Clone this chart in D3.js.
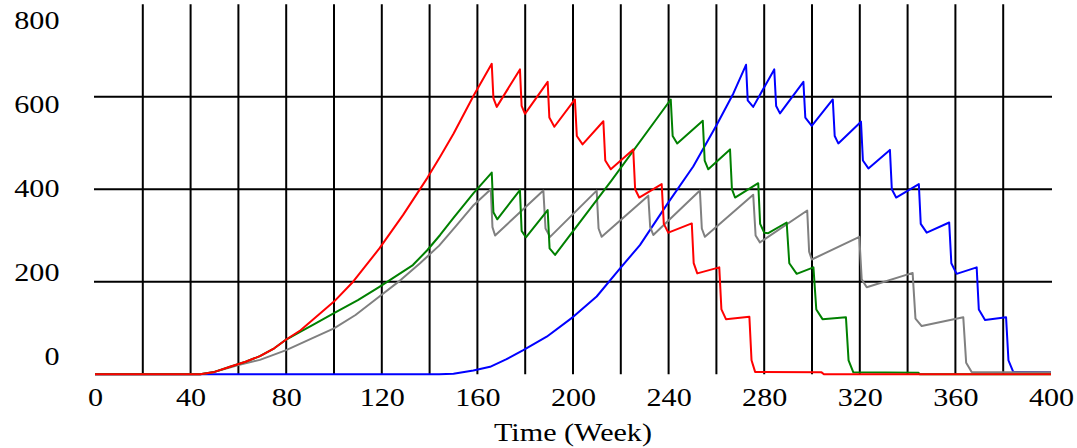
<!DOCTYPE html>
<html>
<head>
<meta charset="utf-8">
<script src="https://cdn.jsdelivr.net/npm/d3@7"></script>
<style>
  html, body { margin: 0; padding: 0; background: #fff; }
  svg { display: block; }
  text { font-family: "Liberation Serif", "Times New Roman", serif; fill: #000; }
</style>
</head>
<body>
<svg id="chart" width="1077" height="448"></svg>
<script>
// ---- data (Time in weeks, value) ----
const xTicks = [0, 40, 80, 120, 160, 200, 240, 280, 320, 360, 400];
const xGrid = [20, 40, 60, 80, 100, 120, 140, 160, 180, 200, 220, 240, 260, 280, 300, 320, 340, 360, 380];
const yTicks = [0, 200, 400, 600, 800];
const yGrid = [200, 400, 600];
const xTitle = "Time (Week)";

const blueSeries = [[0,0],[144,0],[150,1],[158.3,8],[165.3,16],[172,32],[179.2,52],[189,81],[200.1,124],[209.9,168],[219.7,229],[228,279],[239.2,366],[250.3,449],[260.1,539],[267.1,607],[272.4,669],
  [273.1,592],[275.4,578],[284.2,659],[285,580],[286.6,564],[296.4,632],[297.2,555],[299.9,537],[308.7,594],[309.5,515],[311,499],[320.5,546],[321.3,462],[323.6,445],[332.6,485],[333.4,400],[335.2,382],[344.7,411],[345.5,325],[348,306],[357.4,328],[358.3,240],[360.5,217],[368.9,231],[369.8,140],[372.4,117],[381.2,123],[382.2,30],[384.2,5],[400,4]];

const graySeries = [[0,0],[44,0],[50,5],[56,14],[60,20],[69,31],[80,52],[91,78],[100,99],[109,128],[119,168],[128,204],[136,240],[144,278],[151,320],[158.5,366],[165.6,400],
  [166.3,318],[167.4,300],[187.6,397],[188.5,315],[190.4,297],[209.9,397],[210.7,315],[212,297],[231.5,386],[232.3,318],[233.6,301],[253.1,397],[253.9,315],[255.2,297],[275.4,388],[276.4,300],[278.2,285],[298,354],[298.8,265],[299.9,248],[319.8,297],[320.8,205],[322.9,188],[342.1,219],[343.3,120],[345.9,104],[363.3,123],[364.5,25],[366.8,5],[400,4]];

const greenSeries = [[0,0],[44,0],[50,5],[56.5,16],[63,27],[69,39],[75,56],[80,75],[86,92],[91,106],[100,132],[110,160],[119,189],[133,236],[139,268],[144.4,301],[150,338],[158.3,391],[166,436],
  [166.7,350],[168.3,335],[177.8,398],[178.5,310],[180.3,296],[189.4,355],[190.2,272],[192.5,258],[216,418],[240.9,594],[241.7,515],[243.6,499],[254.3,548],[255.1,462],[256.6,443],[265.7,486],[266.5,400],[267.8,382],[277.5,413],[278.3,325],[280,306],[281.7,305],[289.4,328],[290.5,240],[293.6,217],[300.6,231],[301.8,140],[304.4,119],[314.2,123],[315.3,30],[317.3,4],[344.6,3],[345,0],[400,0]];

const redSeries = [[0,0],[44,0],[50,5],[56.5,16],[63,27],[69,39],[75,56],[80,75],[86,95],[91,117],[100,157],[108,200],[119,272],[129,345],[139,424],[144.4,470],[150,520],[158.5,603],[166,671],
  [166.7,597],[168.1,578],[177.8,659],[178.5,580],[179.9,563],[189.4,632],[190.1,555],[192.2,535],[200.8,594],[201.6,515],[204,497],[212.7,547],[213.5,462],[215.8,443],[225.2,486],[226,400],[227.7,382],[237.1,411],[238,325],[239.9,306],[249.7,326],[250.5,240],[252,218],[261.2,231],[262.1,140],[264,119],[273.8,124],[274.7,30],[276.2,5],[304,4],[305,0],[400,0]];

const seriesList = [
  { data: blueSeries, color: "#0000ff" },
  { data: graySeries, color: "#808080" },
  { data: greenSeries, color: "#008000" },
  { data: redSeries, color: "#ff0000" }
];

// ---- layout ----
const svg = d3.select("#chart");
const x = d3.scaleLinear().domain([0, 400]).range([95, 1051]);
const y = d3.scaleLinear().domain([0, 800]).range([374.2, 4.2]);
// label positions for the y axis (Vensim spreads the labels evenly inside the plot)
const yLabel = d3.scaleLinear().domain([0, 800]).range([356.5, 21]);
const stretch = "scale(1.23,1)";
const fontSize = "24.5px";

// grid
svg.append("g").selectAll("line").data(xGrid).join("line")
  .attr("x1", d => x(d)).attr("x2", d => x(d))
  .attr("y1", y(800)).attr("y2", y(0))
  .attr("stroke", "#000").attr("stroke-width", 2);
svg.append("g").selectAll("line").data(yGrid).join("line")
  .attr("x1", x(0) - 1).attr("x2", x(400) + 1)
  .attr("y1", d => y(d)).attr("y2", d => y(d))
  .attr("stroke", "#000").attr("stroke-width", 2);

// series
const line = d3.line().x(d => x(d[0])).y(d => y(d[1]));
svg.append("g").selectAll("path").data(seriesList).join("path")
  .attr("d", d => line(d.data))
  .attr("fill", "none")
  .attr("stroke", d => d.color)
  .attr("stroke-width", 2)
  .attr("stroke-linejoin", "round");

// x axis labels
const xAxis = svg.append("g").attr("transform", `translate(0,${y(0)})`)
  .call(d3.axisBottom(x).tickValues(xTicks).tickFormat(d3.format("d")).tickSize(0).tickPadding(14));
xAxis.select(".domain").remove();
xAxis.selectAll("text").attr("font-size", fontSize).attr("font-family", "Liberation Serif").attr("fill", "#000")
  .attr("transform", stretch);

// y axis labels
const yAxis = svg.append("g").attr("transform", "translate(59.5,0)")
  .call(d3.axisLeft(yLabel).tickValues(yTicks).tickFormat(d3.format("d")).tickSize(0).tickPadding(0));
yAxis.select(".domain").remove();
yAxis.selectAll("text").attr("font-size", fontSize).attr("font-family", "Liberation Serif").attr("fill", "#000")
  .attr("transform", stretch);

// x title
svg.append("text")
  .attr("transform", `translate(${(x(0) + x(400)) / 2},441) ${stretch}`)
  .attr("text-anchor", "middle")
  .attr("font-size", fontSize)
  .text(xTitle);
</script>
</body>
</html>
